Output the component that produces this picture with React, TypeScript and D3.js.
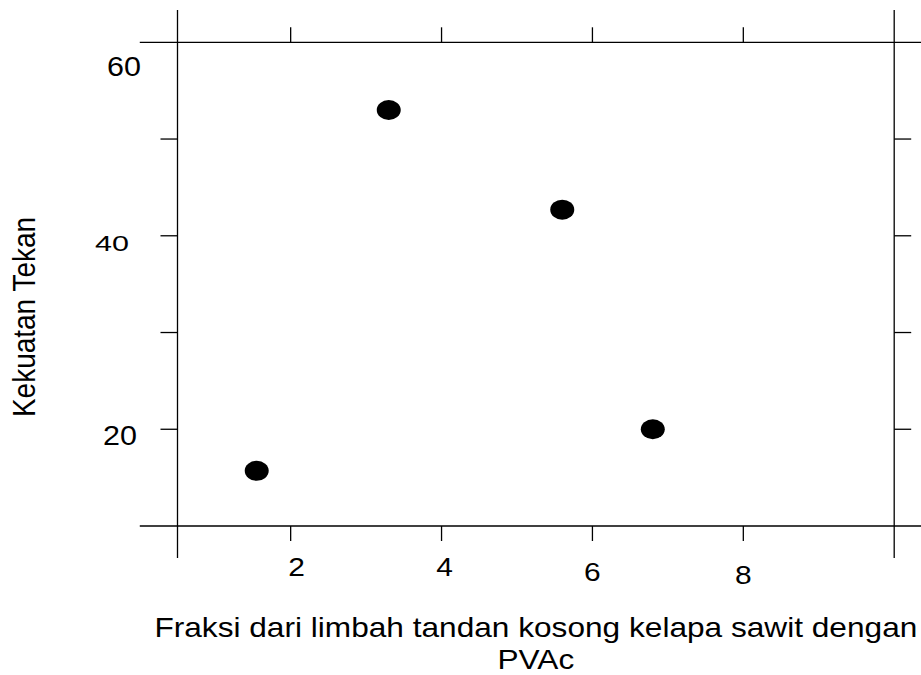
import React from "react";
import * as d3 from "d3";

// ---- data ----
const xValues = [1.55, 3.3, 5.6, 6.8];
const yValues = [15.7, 53.0, 42.7, 20.0];
const xTicks = [2, 4, 6, 8];
const yTicks = [20, 30, 40, 50];
const yTickLabels = [20, 40, 60];
const xTitleLine1 = "Fraksi dari limbah tandan kosong kelapa sawit dengan";
const xTitleLine2 = "PVAc";
const yTitle = "Kekuatan Tekan";

// ---- layout / style ----
const W = 921;
const H = 675;
const FONT = "'Liberation Sans', Arial, Helvetica, sans-serif";
const SX = 1.13; // horizontal stretch of text seen in the reference
// small per-label nudges seen in the reference [dx, baseline offset]
const xLabelNudge: Record<number, [number, number]> = { 2: [6, 50], 4: [3, 50], 6: [0, 55], 8: [0, 58] };
const yLabelNudge: Record<number, [number, number, number]> = { 20: [120, 16, 1], 40: [112, 15, 0.8], 60: [124, 34, 1] };

export default function App() {
  const x = d3.scaleLinear().domain([0.5, 10]).range([177.5, 894.2]);
  const y = d3.scaleLinear().domain([10, 60]).range([526, 42.3]);
  const stroke = "#000";
  const sw = 1.3;
  const xTickLen = 15;
  const yTickLen = 17;

  return (
    <svg width={W} height={H} style={{ position: "absolute", left: 0, top: 0, background: "#fff" }}>
      {/* frame lines (extended) */}
      <line x1={x(0)} x2={W} y1={y(60)} y2={y(60)} stroke={stroke} strokeWidth={sw} />
      <line x1={x(0)} x2={W} y1={y(10)} y2={y(10)} stroke={stroke} strokeWidth={sw} />
      <line x1={x(0.5)} x2={x(0.5)} y1={y(63.35)} y2={y(6.7)} stroke={stroke} strokeWidth={sw} />
      <line x1={x(10)} x2={x(10)} y1={y(63.35)} y2={y(6.7)} stroke={stroke} strokeWidth={sw} />

      {/* x ticks top & bottom */}
      {xTicks.map((t) => (
        <g key={"xt" + t}>
          <line x1={x(t)} x2={x(t)} y1={y(60)} y2={y(60) - xTickLen} stroke={stroke} strokeWidth={sw} />
          <line x1={x(t)} x2={x(t)} y1={y(10)} y2={y(10) + xTickLen} stroke={stroke} strokeWidth={sw} />
        </g>
      ))}
      {/* y ticks left & right */}
      {yTicks.map((t) => (
        <g key={"yt" + t}>
          <line x1={x(0.5)} x2={x(0.5) - yTickLen} y1={y(t)} y2={y(t)} stroke={stroke} strokeWidth={sw} />
          <line x1={x(10)} x2={x(10) + yTickLen} y1={y(t)} y2={y(t)} stroke={stroke} strokeWidth={sw} />
        </g>
      ))}

      {/* x tick labels */}
      {xTicks.map((t) => {
        const [dx, dy] = xLabelNudge[t] || [0, 50];
        return (
          <text
            key={"xl" + t}
            transform={`translate(${x(t) + dx},${y(10) + dy}) scale(${SX},1)`}
            textAnchor="middle"
            fontFamily={FONT}
            fontSize={26.5}
            fill="#000"
          >
            {t}
          </text>
        );
      })}

      {/* y tick labels */}
      {yTickLabels.map((t) => {
        const [cx, dy, sy] = yLabelNudge[t] || [120, 16, 1];
        return (
          <text
            key={"yl" + t}
            transform={`translate(${cx},${y(t) + dy}) scale(${SX},${sy})`}
            textAnchor="middle"
            fontFamily={FONT}
            fontSize={27}
            fill="#000"
          >
            {t}
          </text>
        );
      })}

      {/* points */}
      {xValues.map((v, i) => (
        <ellipse key={"p" + i} cx={x(v)} cy={y(yValues[i])} rx={12} ry={10} fill="#000" />
      ))}

      {/* axis titles */}
      <text
        transform={`translate(${(x(0.5) + x(10)) / 2},636.5) scale(${SX},1)`}
        textAnchor="middle"
        fontFamily={FONT}
        fontSize={28}
        fill="#000"
      >
        {xTitleLine1}
      </text>
      <text
        transform={`translate(${(x(0.5) + x(10)) / 2},669) scale(${SX},1)`}
        textAnchor="middle"
        fontFamily={FONT}
        fontSize={28}
        fill="#000"
      >
        {xTitleLine2}
      </text>
      <text
        transform={`translate(35,317) scale(${SX},1) rotate(-90)`}
        textAnchor="middle"
        fontFamily={FONT}
        fontSize={28}
        fill="#000"
      >
        {yTitle}
      </text>
    </svg>
  );
}
